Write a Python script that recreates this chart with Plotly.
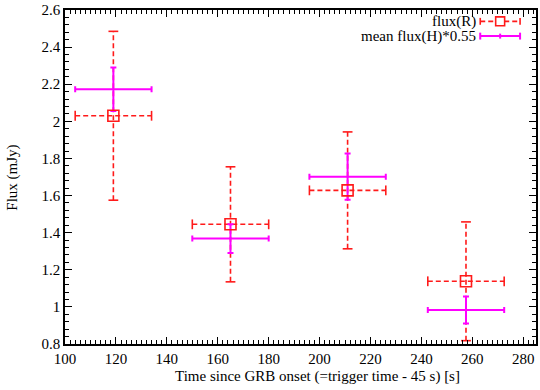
import plotly.graph_objects as go

# ---- data ----
time_R = [119, 165, 211, 257.5]
time_err_R = [15, 15, 15, 15]
flux_R = [2.03, 1.445, 1.628, 1.138]
flux_err_R = [0.455, 0.31, 0.315, 0.32]

time_H = [119, 165, 211, 257.5]
time_err_H = [15, 15, 15, 15]
flux_H = [2.173, 1.368, 1.702, 0.983]
flux_err_H = [0.117, 0.078, 0.125, 0.073]

x_ticks = [100, 120, 140, 160, 180, 200, 220, 240, 260, 280]
y_ticks = [0.8, 1.0, 1.2, 1.4, 1.6, 1.8, 2.0, 2.2, 2.4, 2.6]
y_ticktext = ["0.8", "1", "1.2", "1.4", "1.6", "1.8", "2", "2.2", "2.4", "2.6"]

series_names = ["flux(R)", "mean flux(H)*0.55"]

RED = "#ff1a1a"
MAG = "#ff00ff"
FONT = "Liberation Serif"
FS = 15

fig = go.Figure()

# dashed error bars for R built from the data arrays
vx, vy, hx, hy = [], [], [], []
capv_x, capv_y, caph_x, caph_y = [], [], [], []
for x, xe, y, ye in zip(time_R, time_err_R, flux_R, flux_err_R):
    vx += [x, x, None]
    vy += [y - ye, y + ye, None]
    hx += [x - xe, x + xe, None]
    hy += [y, y, None]
    capv_x += [x, x]
    capv_y += [y - ye, y + ye]
    caph_x += [x - xe, x + xe]
    caph_y += [y, y]

fig.add_trace(go.Scatter(x=vx + hx, y=vy + hy, mode="lines",
                         line=dict(color=RED, width=1.6, dash="5px,3px"),
                         showlegend=False, hoverinfo="skip"))
fig.add_trace(go.Scatter(x=capv_x, y=capv_y, mode="markers",
                         marker=dict(symbol="line-ew", size=7, line=dict(color=RED, width=1.6)),
                         showlegend=False, hoverinfo="skip"))
fig.add_trace(go.Scatter(x=caph_x, y=caph_y, mode="markers",
                         marker=dict(symbol="line-ns", size=7, line=dict(color=RED, width=1.6)),
                         showlegend=False, hoverinfo="skip"))

# H series with solid error bars
fig.add_trace(go.Scatter(
    x=time_H, y=flux_H, mode="markers", name=series_names[1],
    marker=dict(size=2, color=MAG),
    error_x=dict(type="data", array=time_err_H, color=MAG, thickness=2, width=3),
    error_y=dict(type="data", array=flux_err_H, color=MAG, thickness=2, width=3),
    showlegend=False))

# R square markers
fig.add_trace(go.Scatter(
    x=time_R, y=flux_R, mode="markers", name=series_names[0],
    marker=dict(symbol="square-open", size=11, color=RED, line=dict(color=RED, width=1.6)),
    showlegend=False))

# ---- gnuplot-style key (text left of sample) ----
L, R_, T, B = 65, 538, 5, 344
def px(v):
    return (v - L) / (R_ - L)
def py(v):
    return (B - v) / (B - T)

key_rows = [16.5, 31.5]
sx0, sx1, sxm = 482, 522, 502
shapes = []
y1 = key_rows[0]
shapes.append(dict(type="line", xref="paper", yref="paper", x0=px(sx0), x1=px(sx1), y0=py(y1), y1=py(y1),
                   line=dict(color=RED, width=1.6, dash="5px,3px")))
for cx in (sx0, sx1):
    shapes.append(dict(type="line", xref="paper", yref="paper", x0=px(cx), x1=px(cx), y0=py(y1 - 3.5), y1=py(y1 + 3.5),
                       line=dict(color=RED, width=1.6)))
shapes.append(dict(type="rect", xref="paper", yref="paper", x0=px(sxm - 4.5), x1=px(sxm + 4.5),
                   y0=py(y1 - 4.5), y1=py(y1 + 4.5), line=dict(color=RED, width=1.6), fillcolor="white"))
y2 = key_rows[1]
shapes.append(dict(type="line", xref="paper", yref="paper", x0=px(sx0), x1=px(sx1), y0=py(y2), y1=py(y2),
                   line=dict(color=MAG, width=2)))
for cx, hh in ((sx0, 3.5), (sx1, 3.5), (sxm, 2.5)):
    shapes.append(dict(type="line", xref="paper", yref="paper", x0=px(cx), x1=px(cx), y0=py(y2 - hh), y1=py(y2 + hh),
                       line=dict(color=MAG, width=2)))

annotations = []
for name, yr in zip(series_names, key_rows):
    annotations.append(dict(text=name, xref="paper", yref="paper", x=px(480), y=py(yr),
                            xanchor="right", yanchor="middle", showarrow=False,
                            font=dict(family=FONT, size=FS, color="black")))
annotations.append(dict(text="Time since GRB onset (=trigger time - 45 s) [s]", xref="paper", yref="paper",
                        x=px(319), y=py(377), xanchor="center", yanchor="middle", showarrow=False,
                        font=dict(family=FONT, size=FS, color="black")))
annotations.append(dict(text="Flux (mJy)", xref="paper", yref="paper", x=px(12), y=py(175),
                        xanchor="center", yanchor="middle", showarrow=False, textangle=-90,
                        font=dict(family=FONT, size=FS, color="black")))

axis_common = dict(showline=True, linecolor="black", linewidth=1.5, mirror="allticks",
                   ticks="inside", ticklen=7, tickwidth=1.2, tickcolor="black",
                   showgrid=False, zeroline=False, ticklabeloverflow="allow",
                   tickfont=dict(family=FONT, size=FS, color="black"))

fig.update_layout(
    width=540, height=390,
    margin=dict(l=65, r=2, t=5, b=46),
    paper_bgcolor="white", plot_bgcolor="white",
    showlegend=False,
    shapes=shapes, annotations=annotations,
    xaxis=dict(range=[100, 285], tickvals=x_ticks,
               minor=dict(dtick=2, ticklen=4, ticks="inside", tickcolor="black", tickwidth=1),
               **axis_common),
    yaxis=dict(range=[0.8, 2.6], tickvals=y_ticks, ticktext=y_ticktext,
               minor=dict(dtick=0.04, ticklen=4, ticks="inside", tickcolor="black", tickwidth=1),
               **axis_common),
)

fig.write_html("out.html", config={"displayModeBar": False},
               post_script="document.body.style.margin='0';document.body.style.overflow='hidden';")
